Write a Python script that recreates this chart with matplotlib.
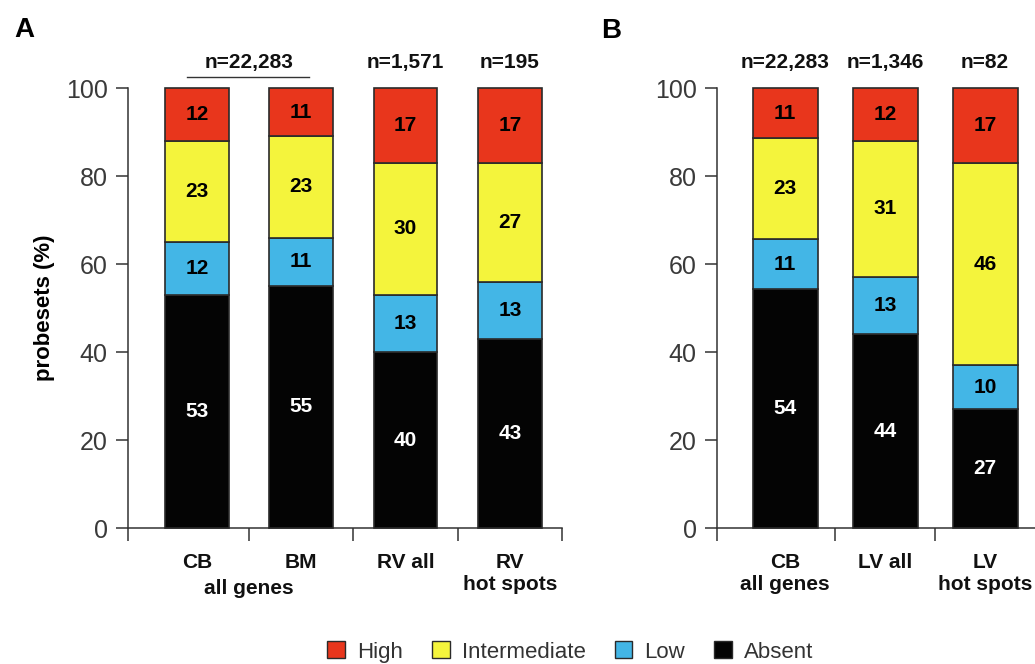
import matplotlib
matplotlib.use("Agg")
import matplotlib.pyplot as plt
from matplotlib.patches import Patch

plt.rcParams['font.family'] = ['Liberation Sans', 'DejaVu Sans']

colors = {"High": "#e8361c", "Intermediate": "#f4f43c",
          "Low": "#43b6e6", "Absent": "#040404"}
legend_order = ["High", "Intermediate", "Low", "Absent"]

# panel A
a_groups = ["CB", "BM", "RV all", "RV\nhot spots"]
a_n = ["n=22,283", "n=1,571", "n=195"]
a_absent = [53, 55, 40, 43]
a_low = [12, 11, 13, 13]
a_inter = [23, 23, 30, 27]
a_high = [12, 11, 17, 17]

# panel B
b_groups = ["CB\nall genes", "LV all", "LV\nhot spots"]
b_n = ["n=22,283", "n=1,346", "n=82"]
b_absent = [54.4, 44, 27]
b_low = [11.2, 13, 10]
b_inter = [23.0, 31, 46]
b_high = [11.4, 12, 17]

ink = '#333333'


def draw_stack(ax, layers, width):
    x = list(range(len(layers[0][1])))
    bottom = [0] * len(x)
    for name, vals in layers:
        bars = ax.bar(x, vals, width=width, bottom=bottom, color=colors[name],
                      edgecolor='#2a2a2a', linewidth=1.2, clip_on=False, zorder=3)
        tc = 'white' if name == 'Absent' else 'black'
        ax.bar_label(bars, labels=[f"{v:.0f}" for v in vals], label_type='center',
                     color=tc, fontsize=15, fontweight='bold', zorder=4)
        bottom = [b + v for b, v in zip(bottom, vals)]


def style(ax, left, right, groups, major):
    ax.set_xlim(left, right)
    ax.set_ylim(0, 100)
    ax.spines[['top', 'right']].set_visible(False)
    for s in ('left', 'bottom'):
        ax.spines[s].set_linewidth(1.1)
        ax.spines[s].set_color(ink)
    ax.set_yticks([0, 20, 40, 60, 80, 100])
    ax.tick_params(axis='y', length=8.5, width=1.1, color=ink,
                   labelcolor='#3a3a3a', labelsize=18, pad=6)
    ax.set_xticks([left] + major, [])
    ax.tick_params(axis='x', which='major', length=9.5, width=1.1, color=ink)
    ax.set_xticks(range(len(groups)), groups, minor=True)
    ax.tick_params(axis='x', which='minor', length=0, pad=18,
                   labelsize=15, labelcolor='#111111')
    for lab in ax.get_xticklabels(minor=True):
        lab.set_fontweight('bold')


fig = plt.figure(figsize=(10.35, 6.64), dpi=100)
W, H = 1035, 664

axA = fig.add_axes([128 / W, 1 - 528 / H, 434 / W, 440 / H])
draw_stack(axA, [("Absent", a_absent), ("Low", a_low),
                 ("Intermediate", a_inter), ("High", a_high)], 0.61)
style(axA, -0.66, 3.5, a_groups, [0.5, 1.5, 2.5, 3.5])
axA.set_ylabel('probesets (%)', fontsize=16, fontweight='bold', labelpad=8)
trA = axA.get_xaxis_transform()
axA.text(0.5, -0.138, "all genes", transform=trA, ha='center', va='center',
         fontsize=15, fontweight='bold', color='#111111')
for xpos, lab in zip([0.5, 2, 3], a_n):
    axA.text(xpos, 1.059, lab, transform=trA, ha='center', va='center',
             fontsize=15, fontweight='bold', color='#111111')
axA.plot([-0.093, 1.076], [1.025, 1.025], transform=trA, color=ink,
         lw=1.0, clip_on=False)

axB = fig.add_axes([717 / W, 1 - 528 / H, 318 / W, 440 / H])
draw_stack(axB, [("Absent", b_absent), ("Low", b_low),
                 ("Intermediate", b_inter), ("High", b_high)], 0.65)
style(axB, -0.68, 2.5, b_groups, [0.5, 1.5])
trB = axB.get_xaxis_transform()
for xpos, lab in enumerate(b_n):
    axB.text(xpos, 1.059, lab, transform=trB, ha='center', va='center',
             fontsize=15, fontweight='bold', color='#111111')

fig.text(24 / W, 1 - 30 / H, 'A', fontsize=20, fontweight='bold',
         ha='center', va='center')
fig.text(611 / W, 1 - 31 / H, 'B', fontsize=20, fontweight='bold',
         ha='center', va='center')

handles = [Patch(facecolor=colors[k], edgecolor='#2a2a2a', linewidth=1.0)
           for k in legend_order]
leg = fig.legend(handles, legend_order, loc='center', bbox_to_anchor=(0.551, 0.018),
                 ncol=4, frameon=False, fontsize=16, handlelength=0.8,
                 handleheight=0.8, handletextpad=0.55, columnspacing=1.3)
for t in leg.get_texts():
    t.set_color(ink)

fig.savefig('out.png', dpi=100)
